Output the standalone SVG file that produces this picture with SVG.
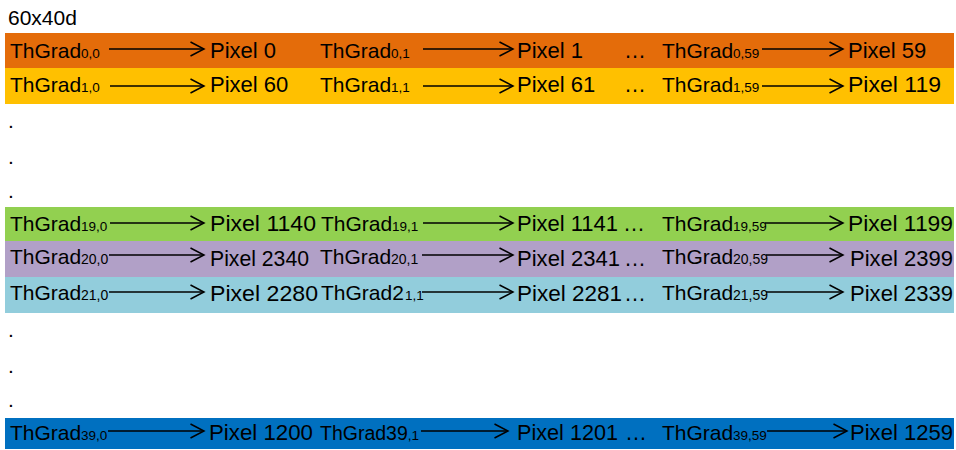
<svg xmlns="http://www.w3.org/2000/svg" width="956" height="450" viewBox="0 0 956 450">
<style>
text{font-family:"Liberation Sans",Arial,sans-serif;fill:#000}
.t{font-size:21px}
.s{font-size:13.5px}
.s2{font-size:14px}
.p{font-size:22px}
.d{font-size:21px}
.c{stroke:#000;stroke-width:1.5;fill:none}
</style>
<defs>
<marker id="ah" markerUnits="userSpaceOnUse" markerWidth="16" markerHeight="16" refX="13.5" refY="7" orient="auto" overflow="visible">
<path d="M0,0 L13.5,7 L0,14" fill="none" stroke="#000" stroke-width="1.5"/>
</marker>
</defs>
<rect width="956" height="450" fill="#fff"/>
<g id="bands">
<rect x="5" y="33" width="949" height="35" fill="#E46C0A"/>
<rect x="5" y="68" width="949" height="36" fill="#FFC000"/>
<rect x="5" y="207" width="949" height="34" fill="#92D050"/>
<rect x="5" y="241" width="949" height="36" fill="#B1A0C7"/>
<rect x="5" y="277" width="949" height="36" fill="#92CDDC"/>
<rect x="5" y="418" width="949" height="31" fill="#0070C0"/>
</g>
<text id="title" class="t" x="8" y="25">60x40d</text>
<g id="dots">
<text class="d" x="8" y="128">.</text>
<text class="d" x="8" y="164">.</text>
<text class="d" x="8" y="198">.</text>
<text class="d" x="8" y="337">.</text>
<text class="d" x="8" y="373">.</text>
<text class="d" x="8" y="407">.</text>
</g>
<g id="connectors">
<path class="c" marker-end="url(#ah)" d="M109,49 H204"/>
<path class="c" marker-end="url(#ah)" d="M423,49 H513"/>
<path class="c" marker-end="url(#ah)" d="M762,49 H843"/>
<path class="c" marker-end="url(#ah)" d="M110,86 H204"/>
<path class="c" marker-end="url(#ah)" d="M423,86 H513"/>
<path class="c" marker-end="url(#ah)" d="M762,86 H843"/>
<path class="c" marker-end="url(#ah)" d="M110,223 H204"/>
<path class="c" marker-end="url(#ah)" d="M423,223 H513"/>
<path class="c" marker-end="url(#ah)" d="M765,223 H843"/>
<path class="c" marker-end="url(#ah)" d="M109,255 H204"/>
<path class="c" marker-end="url(#ah)" d="M422,255 H513"/>
<path class="c" marker-end="url(#ah)" d="M766,255 H843"/>
<path class="c" marker-end="url(#ah)" d="M109,292 H204"/>
<path class="c" marker-end="url(#ah)" d="M422,292 H513"/>
<path class="c" marker-end="url(#ah)" d="M766,292 H843"/>
<path class="c" marker-end="url(#ah)" d="M108,431 H204"/>
<path class="c" marker-end="url(#ah)" d="M421,431 H508"/>
<path class="c" marker-end="url(#ah)" d="M767,431 H847"/>
</g>
<!-- row 0 -->
<g id="tg-0-0"><text class="t" x="10" y="58">ThGrad<tspan class="s" x="81">0,0</tspan></text></g>
<g id="px-0"><text class="p" x="210" y="58">Pixel 0</text></g>
<g id="tg-0-1"><text class="t" x="320" y="58">ThGrad<tspan class="s" x="391">0,1</tspan></text></g>
<g id="px-1"><text class="p" x="517" y="58">Pixel 1</text></g>
<text class="p" x="624" y="58">…</text>
<g id="tg-0-59"><text class="t" x="662" y="58">ThGrad<tspan class="s" x="733">0,59</tspan></text></g>
<g id="px-59"><text class="p" x="848" y="58">Pixel 59</text></g>
<!-- row 1 -->
<g id="tg-1-0"><text class="t" x="10" y="92">ThGrad<tspan class="s" x="81">1,0</tspan></text></g>
<g id="px-60"><text class="p" x="210" y="92">Pixel 60</text></g>
<g id="tg-1-1"><text class="t" x="320" y="92">ThGrad<tspan class="s" x="391">1,1</tspan></text></g>
<g id="px-61"><text class="p" x="517" y="92">Pixel 61</text></g>
<text class="p" x="624" y="92">…</text>
<g id="tg-1-59"><text class="t" x="662" y="92">ThGrad<tspan class="s" x="733">1,59</tspan></text></g>
<g id="px-119"><text class="p" x="848" y="92" textLength="93" lengthAdjust="spacingAndGlyphs">Pixel 119</text></g>
<!-- row 19 -->
<g id="tg-19-0"><text class="t" x="10" y="231">ThGrad<tspan class="s" x="81">19,0</tspan></text></g>
<g id="px-1140"><text class="p" x="210" y="231" textLength="106" lengthAdjust="spacingAndGlyphs">Pixel 1140</text></g>
<g id="tg-19-1"><text class="t" x="321" y="231">ThGrad<tspan class="s" x="392">19,1</tspan></text></g>
<g id="px-1141"><text class="p" x="517" y="231" textLength="101" lengthAdjust="spacingAndGlyphs">Pixel 1141</text></g>
<text class="p" x="623" y="231">…</text>
<g id="tg-19-59"><text class="t" x="662" y="231">ThGrad<tspan class="s" x="733">19,59</tspan></text></g>
<g id="px-1199"><text class="p" x="848" y="231" textLength="105" lengthAdjust="spacingAndGlyphs">Pixel 1199</text></g>
<!-- row 20 -->
<g id="tg-20-0"><text class="t" x="10" y="264">ThGrad<tspan class="s2" x="81">20,0</tspan></text></g>
<g id="px-2340"><text class="p" x="210" y="266" textLength="99" lengthAdjust="spacingAndGlyphs">Pixel 2340</text></g>
<g id="tg-20-1"><text class="t" x="320" y="264">ThGrad<tspan class="s2" x="391">20,1</tspan></text></g>
<g id="px-2341"><text class="p" x="517" y="266" textLength="103" lengthAdjust="spacingAndGlyphs">Pixel 2341</text></g>
<text class="p" x="624" y="266">…</text>
<g id="tg-20-59"><text class="t" x="662" y="264">ThGrad<tspan class="s2" x="733">20,59</tspan></text></g>
<g id="px-2399"><text class="p" x="850" y="266" textLength="103" lengthAdjust="spacingAndGlyphs">Pixel 2399</text></g>
<!-- row 21 -->
<g id="tg-21-0"><text class="t" x="10" y="300">ThGrad<tspan class="s2" x="81">21,0</tspan></text></g>
<g id="px-2280"><text class="p" x="210" y="301" textLength="108" lengthAdjust="spacingAndGlyphs">Pixel 2280</text></g>
<g id="tg-21-1"><text class="t" x="321" y="300">ThGrad2<tspan class="s" x="405">1,1</tspan></text></g>
<g id="px-2281"><text class="p" x="517" y="301" textLength="105" lengthAdjust="spacingAndGlyphs">Pixel 2281</text></g>
<text class="p" x="624" y="301">…</text>
<g id="tg-21-59"><text class="t" x="662" y="300">ThGrad<tspan class="s2" x="733">21,59</tspan></text></g>
<g id="px-2339"><text class="p" x="850" y="301" textLength="103" lengthAdjust="spacingAndGlyphs">Pixel 2339</text></g>
<!-- row 39 -->
<g id="tg-39-0"><text class="t" x="10" y="440">ThGrad<tspan class="s" x="81">39,0</tspan></text></g>
<g id="px-1200"><text class="p" x="209" y="440" textLength="104" lengthAdjust="spacingAndGlyphs">Pixel 1200</text></g>
<g id="tg-39-1"><text x="320" y="440" style="font-size:19.5px">ThGrad39<tspan class="s">,1</tspan></text></g>
<g id="px-1201"><text class="p" x="517" y="440" textLength="101" lengthAdjust="spacingAndGlyphs">Pixel 1201</text></g>
<text class="p" x="625" y="440">…</text>
<g id="tg-39-59"><text class="t" x="662" y="440">ThGrad<tspan class="s" x="733">39,59</tspan></text></g>
<g id="px-1259"><text class="p" x="850" y="440" textLength="103" lengthAdjust="spacingAndGlyphs">Pixel 1259</text></g>
</svg>
